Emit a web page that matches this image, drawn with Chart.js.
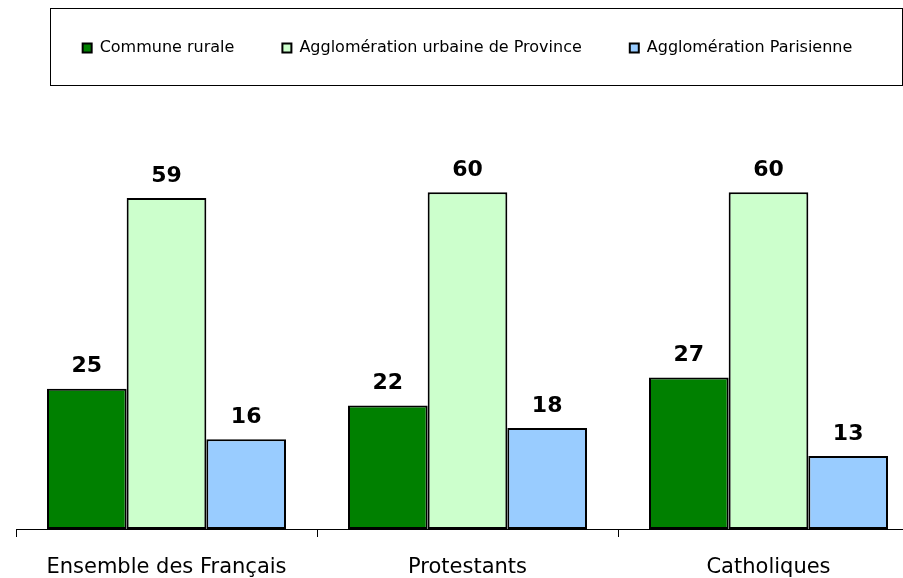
<!DOCTYPE html>
<html>
<head>
<meta charset="utf-8">
<script src="https://cdn.jsdelivr.net/npm/chart.js@4/dist/chart.umd.min.js"></script>
<style>
  html, body { margin: 0; padding: 0; background: #fff; overflow: hidden; }
  #wrap { width: 919px; height: 578px; }
</style>
</head>
<body>
<div id="wrap"><canvas id="chart"></canvas></div>
<script>
const categories = ['Ensemble des Français', 'Protestants', 'Catholiques'];
const seriesNames = ['Commune rurale', 'Agglomération urbaine de Province', 'Agglomération Parisienne'];
const rurale = [25, 22, 27];
const province = [59, 60, 60];
const parisienne = [16, 18, 13];
const colors = ['#008000', '#ccffcc', '#99ccff'];

// box around the legend
const legendBox = {
  id: 'legendBox',
  afterDraw(chart) {
    const ctx = chart.ctx;
    ctx.save();
    ctx.strokeStyle = '#000';
    ctx.lineWidth = 1;
    ctx.strokeRect(50.5, 8.5, 852, 77);
    ctx.restore();
  }
};

// value labels above each bar
const valueLabels = {
  id: 'valueLabels',
  afterDatasetsDraw(chart) {
    const ctx = chart.ctx;
    ctx.save();
    ctx.font = 'bold 22px "DejaVu Sans"';
    ctx.fillStyle = '#000';
    ctx.textAlign = 'center';
    ctx.textBaseline = 'bottom';
    chart.data.datasets.forEach((ds, i) => {
      chart.getDatasetMeta(i).data.forEach((bar, j) => {
        ctx.fillText(ds.data[j], bar.x, bar.y - 11);
      });
    });
    ctx.restore();
  }
};

const data = {
  labels: categories,
  datasets: [
    { label: seriesNames[0], data: rurale, backgroundColor: colors[0] },
    { label: seriesNames[1], data: province, backgroundColor: colors[1] },
    { label: seriesNames[2], data: parisienne, backgroundColor: colors[2] }
  ].map(d => Object.assign(d, {
    borderColor: '#000',
    borderWidth: 2,
    borderSkipped: false,
    categoryPercentage: 0.794,
    barPercentage: 1
  }))
};

const config = {
  type: 'bar',
  data: data,
  options: {
    responsive: true,
    maintainAspectRatio: false,
    animation: false,
    layout: { padding: { left: 16, right: 0, top: -8, bottom: 0 } },
    scales: {
      x: {
        afterFit(scale) { scale.height = 49; },
        grid: {
          offset: true,
          drawOnChartArea: false,
          color: '#000',
          tickLength: 8
        },
        border: { color: '#000', width: 1 },
        ticks: {
          color: '#000',
          padding: 18,
          font: { family: '"DejaVu Sans"', size: 21 }
        }
      },
      y: {
        display: false,
        min: 0,
        max: 82.5
      }
    },
    plugins: {
      legend: {
        position: 'top',
        labels: {
          color: '#000',
          boxWidth: 9,
          boxHeight: 9,
          padding: 48,
          font: { family: '"DejaVu Sans"', size: 16 }
        }
      },
      tooltip: { enabled: false }
    }
  },
  plugins: [legendBox, valueLabels]
};

new Chart(document.getElementById('chart'), config);
</script>
</body>
</html>
